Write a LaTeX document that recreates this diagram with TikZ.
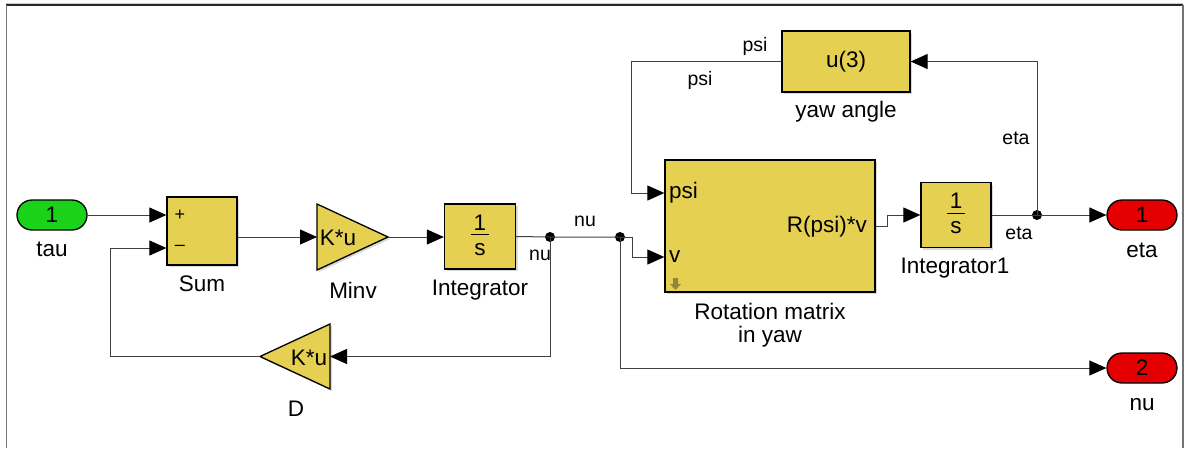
\documentclass[tikz,border=0pt]{standalone}
\usepackage{fontspec}
\setmainfont{Liberation Sans}
\usetikzlibrary{arrows.meta,shadows}
\definecolor{blk}{RGB}{230,208,82}
\definecolor{ingreen}{RGB}{25,210,25}
\definecolor{outred}{RGB}{228,0,0}
\begin{document}
\begin{tikzpicture}[x=1pt,y=-1pt,
  sig/.style={draw=black!75, line width=1pt},
  arr/.style={sig, -{Triangle[length=17pt,width=15pt,color=black]}},
  block/.style={draw=black, line width=1.3pt, fill=blk, inner sep=0pt,
    drop shadow={shadow xshift=2pt, shadow yshift=-2pt, opacity=0.3}},
  port/.style={draw=black, line width=1.3pt, rounded corners=15pt, minimum width=70pt,
    minimum height=30pt, inner sep=0pt, font=\fontsize{22.5}{26}\selectfont},
  lbl/.style={font=\fontsize{22.5}{26}\selectfont, inner sep=0pt},
  slbl/.style={font=\fontsize{19.5}{23}\selectfont, inner sep=0pt},
  jdot/.style={circle, fill=black, inner sep=0pt, minimum size=10pt}]
\useasboundingbox (0,0) rectangle (1188,448);
% frame
\draw[black!20, line width=1pt] (6,3.5) -- (1183,3.5);
\draw[black!85, line width=1.5pt] (6,5) -- (1183,5);
\draw[black!55, line width=1.5pt] (6.5,5) -- (6.5,448);
\draw[black!55, line width=1.5pt] (1183,5) -- (1183,448);

% inport tau
\node[port, fill=ingreen] (tau) at (52,215) {1};
\node[lbl] (taul) at (52,249) {tau};

% Sum
\node[block, minimum width=70pt, minimum height=68pt] (sum) at (202,231) {};
\node[font=\fontsize{18}{18}\selectfont, inner sep=0pt] (plus) at (180,215) {+};
\node[font=\fontsize{18}{18}\selectfont, inner sep=0pt] (minus) at (180,248) {–};
\node[lbl] (suml) at (202,284) {Sum};

% Minv gain
\draw[block] (317,204) -- (388,237) -- (317,270) -- cycle;
\coordinate (minvin) at (317,237);
\coordinate (minvout) at (388,237);
\node[lbl] (minv) at (338,238) {K*u};
\node[lbl] (minvl) at (353,290) {Minv};

% Integrator
\node[block, minimum width=71pt, minimum height=65pt] (int) at (480,236.5) {};
\node[lbl, anchor=base] (int1n) at (480,230) {1};
\draw[black, line width=1pt] (471,234.5) -- (489,234.5);
\node[lbl, anchor=base] (ints) at (480,255) {s};
\node[lbl] (intl) at (480,290) {Integrator};

% junctions nu
\node[jdot] (nu1) at (550,237) {};
\node[jdot] (nu2) at (620,237) {};
\node[slbl] (nul1) at (540,255) {nu};
\node[slbl] (nul2) at (585,221) {nu};

% Rotation matrix
\node[block, minimum width=210pt, minimum height=132pt] (rot) at (770,226) {};
\node[lbl, anchor=west] (psit) at (669,193) {psi};
\node[lbl, anchor=west] (vt) at (669,257) {v};
\node[lbl, anchor=east] (rout) at (867,227) {R(psi)*v};
\fill[black!35!blk] (673,278) rectangle (678,284) -- (670,284) -- (675.5,290) -- (681,284) -- cycle;
\node[lbl] (rotl1) at (770,311) {Rotation matrix};
\node[lbl] (rotl2) at (770,337) {in yaw};

% Integrator1
\node[block, minimum width=70pt, minimum height=65pt] (int1) at (956,215) {};
\node[lbl, anchor=base] (i1n) at (956,208.5) {1};
\draw[black, line width=1pt] (947,213) -- (965,213);
\node[lbl, anchor=base] (i1s) at (956,233.5) {s};
\node[lbl] (int1l) at (955,268) {Integrator1};

% eta
\node[jdot] (etadot) at (1037,215) {};
\node[port, fill=outred] (eta) at (1142,215) {1};
\node[lbl] (etal) at (1142,250) {eta};
\node[slbl] (etas1) at (1019,233) {eta};
\node[slbl] (etas2) at (1016,138) {eta};

% yaw angle
\node[block, minimum width=128pt, minimum height=61pt, lbl] (yaw) at (846,61.5) {u(3)};
\node[lbl] (yawl) at (846,112) {yaw angle};
\node[slbl] (psil1) at (755,46) {psi};
\node[slbl] (psil2) at (700,80) {psi};

% nu outport
\node[port, fill=outred] (nuout) at (1142,368) {2};
\node[lbl] (nuoutl) at (1142,405) {nu};

% D gain
\draw[block] (330,324) -- (330,389) -- (260,356.5) -- cycle;
\coordinate (Din) at (330,356.5);
\coordinate (Dout) at (260,356.5);
\node[lbl] (Dk) at (309,358) {K*u};
\node[lbl] (Dl) at (296,409) {D};

% connectors
\draw[arr] (tau.east) -- (sum.west |- tau);
\draw[arr] (sum.east |- minvin) -- (minvin);
\draw[arr] (minvout) -- (int.west |- minvout);
\draw[sig] (int.east) -- (nu1.center) -- (nu2.center);
\draw[arr] (nu1.center) |- (Din);
\draw[arr] (Dout) -- (110,356.5) |- (sum.west |- minus);
\draw[arr] (nu2.center) -- ++(12,0) |- (rot.west |- vt);
\draw[arr] (nu2.center) |- (nuout.west);
\draw[arr] (yaw.west) -- ++(-150,0) |- (rot.west |- psit);
\draw[arr] (rot.east) -- ++(12,0) |- (int1.west);
\draw[sig] (int1.east) -- (etadot.center);
\draw[arr] (etadot.center) -- (eta.west);
\draw[arr] (etadot.center) |- (yaw.east);
\end{tikzpicture}
\end{document}
